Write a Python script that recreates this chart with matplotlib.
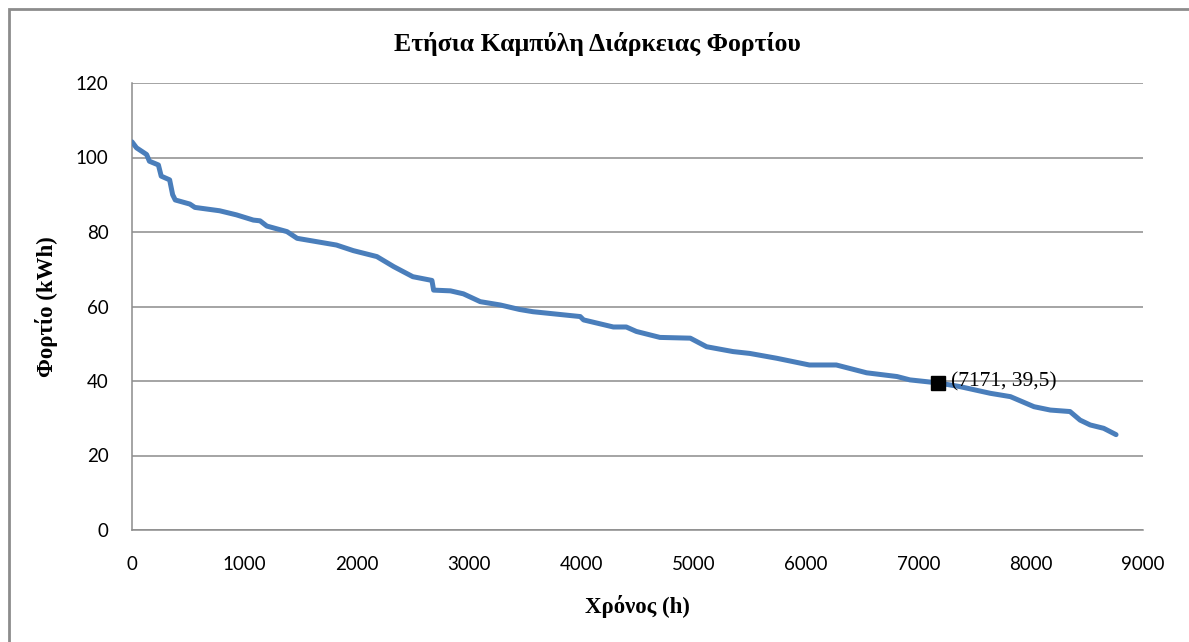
import matplotlib
matplotlib.use("Agg")
import matplotlib.pyplot as plt
from matplotlib.patches import Rectangle

# Data
hours = [0, 40, 130, 155, 235, 260, 335, 362, 385, 515, 560, 780, 930, 1080, 1140,
         1200, 1380, 1470, 1820, 1970, 2180, 2330, 2500, 2670, 2685, 2835, 2950,
         3100, 3280, 3450, 3570, 3990, 4020, 4285, 4400, 4490, 4700, 4970, 5115,
         5350, 5500, 5740, 6030, 6270, 6540, 6810, 6925, 7171, 7370, 7640, 7820,
         8030, 8175, 8350, 8440, 8530, 8650, 8760]
load = [104.2, 102.6, 100.8, 99.0, 98.0, 95.0, 94.0, 90.0, 88.6, 87.5, 86.6, 85.7,
        84.6, 83.2, 83.0, 81.6, 80.1, 78.3, 76.5, 75.0, 73.4, 70.7, 68.0, 67.0,
        64.4, 64.2, 63.4, 61.3, 60.4, 59.2, 58.6, 57.3, 56.4, 54.5, 54.5, 53.3,
        51.7, 51.5, 49.2, 47.9, 47.4, 46.1, 44.3, 44.3, 42.2, 41.2, 40.3, 39.5,
        38.5, 36.7, 35.8, 33.1, 32.2, 31.8, 29.5, 28.2, 27.3, 25.6]
marker_h = [7171]
marker_load = [39.5]
marker_label = "(7171, 39,5)"
x_ticks = [0, 1000, 2000, 3000, 4000, 5000, 6000, 7000, 8000, 9000]
y_ticks = [0, 20, 40, 60, 80, 100, 120]

title = "Ετήσια Καμπύλη Διάρκειας Φορτίου"
xlabel = "Χρόνος (h)"
ylabel = "Φορτίο (kWh)"

W, H = 1189, 642
fig = plt.figure(figsize=(W / 100, H / 100), dpi=100)
fig.patch.set_facecolor("white")

# outer chart frame
fig.patches.append(Rectangle((9 / W, -0.05), 1.2, (1 - 9 / H) + 0.05,
                             transform=fig.transFigure, fill=False,
                             edgecolor="#8c8c8c", linewidth=2, zorder=0))

ax = fig.add_axes([132 / W, 1 - 530 / H, (1143 - 132) / W, (530 - 83) / H])

ax.plot(hours, load, color="#4A7EBB", linewidth=3.6, solid_joinstyle="round",
        solid_capstyle="round", zorder=3)
ax.plot(marker_h, marker_load, marker="s", color="black", markersize=10,
        markeredgecolor="black", linestyle="none", zorder=4)
ax.annotate(marker_label, (marker_h[0], marker_load[0]), xytext=(10, 1),
            textcoords="offset points", va="center", ha="left",
            fontsize=15.5, family="Liberation Serif", zorder=5)

ax.set_xlim(0, 9000)
ax.set_ylim(0, 120)
ax.set_xticks(x_ticks)
ax.set_yticks(y_ticks)
ax.set_xticklabels([str(v) for v in x_ticks], family="Lato", fontsize=13.5)
ax.set_yticklabels([str(v) for v in y_ticks], family="Lato", fontsize=13.5)
ax.tick_params(axis="both", length=0)
ax.tick_params(axis="x", pad=19)
ax.tick_params(axis="y", pad=17)

ax.grid(axis="y", color="#8c8c8c", linewidth=1.1)
ax.set_axisbelow(True)
for s in ["top", "right"]:
    ax.spines[s].set_visible(False)
for s in ["left", "bottom"]:
    ax.spines[s].set_color("#8c8c8c")
    ax.spines[s].set_linewidth(1.1)

fig.text(597 / W, 1 - 44 / H, title, ha="center", va="center",
         family="Liberation Serif", fontweight="bold", fontsize=18.5)
fig.text(637 / W, 1 - 606 / H, xlabel, ha="center", va="center",
         family="Liberation Serif", fontweight="bold", fontsize=16.5)
fig.text(47 / W, 1 - 307 / H, ylabel, ha="center", va="center", rotation=90,
         family="Liberation Serif", fontweight="bold", fontsize=16.5)

fig.savefig("out.png", dpi=100, facecolor="white")
